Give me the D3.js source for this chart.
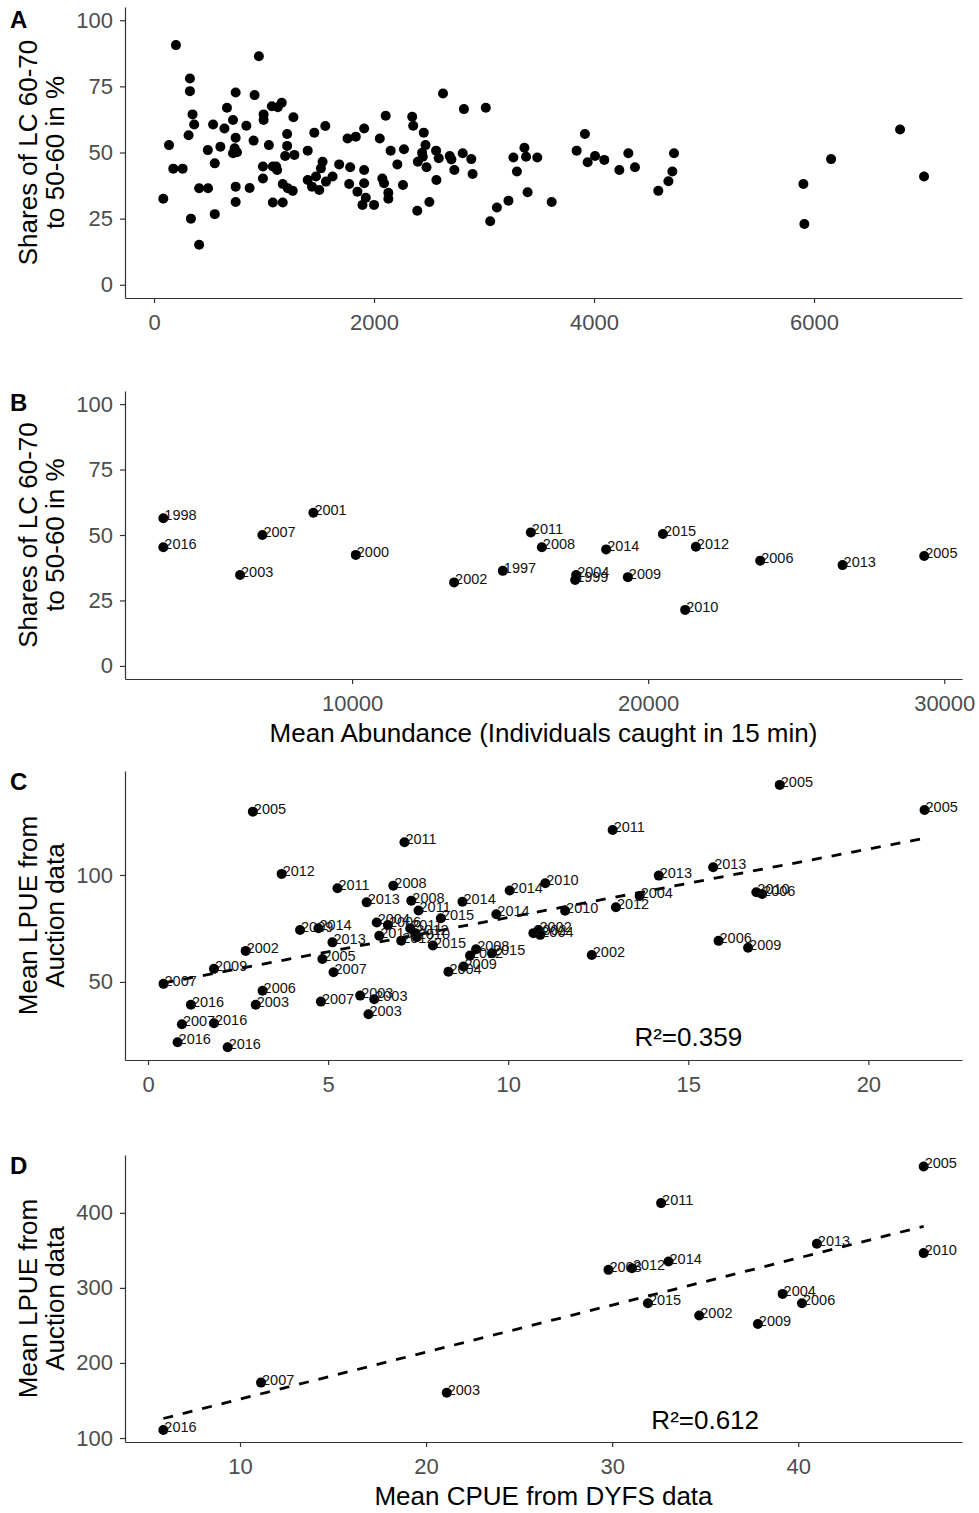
<!DOCTYPE html>
<html>
<head>
<meta charset="utf-8">
<script src="https://cdn.jsdelivr.net/npm/d3@7"></script>
<style>
  html, body { margin: 0; padding: 0; background: #fff; }
  svg { display: block; }
  text { font-family: "Liberation Sans", Arial, sans-serif; }
</style>
</head>
<body>
<svg id="fig" width="979" height="1513"></svg>
<script>
// ---- Panel A: individual hauls (abundance vs. share of LC 60-70 to 50-60) ----
const hauls = [
  [199,90.6],[953,86.4],[326,78],[326,73.2],[350,64.4],[365,60.6],[314,56.5],[136,52.8],[84,32.5],[175,43.9],
  [260,43.9],[335,25],[410,15.1],[410,36.5],[491,36.5],[489,50.9],[537,60.6],[552,45.9],[552,26.7],[603,52.2],
  [640,59.1],[663,66.9],[718,62.3],[742,72.7],[742,55.6],[733,51.6],[718,49.7],[754,50.1],[742,37.1],[742,31.3],
  [839,60.1],[869,36.6],[914,71.7],[905,54.5],[996,64.4],[996,62.3],[1044,52.8],[990,44.7],[990,40.2],[1080,44.7],
  [1110,44.7],[1119,43.4],[1080,31.1],[1170,31.1],[1071,67.5],[1125,67.1],[1161,68.8],[1210,57],[1210,52.5],[1192,48.7],
  [1267,63.3],[1276,49.1],[1170,38.1],[1216,36.5],[1261,35.5],[1397,50.7],[1397,39.6],[1457,57.5],[1557,60],[1436,37.1],
  [1472,40.9],[1517,44],[1532,46.5],[1502,35.8],[1563,39],[1623,40.9],[1683,45.5],[1759,55.3],[1834,56],[1910,59.1],
  [1783,44.4],[1774,38.1],[1849,35.2],[1910,38.4],[1910,43.4],[1925,32.9],[1895,30.2],[2000,30.2],[2052,55.3],[2106,63.9],
  [2151,50.7],[2212,45.5],[2272,51.2],[2075,40.2],[2091,38.4],[2130,34.8],[2130,32.5],[2263,37.7],[2347,63.5],[2356,60.1],
  [2393,28],[2398,46.5],[2627,72.3],[2817,66.4],[3016,66.9],[2452,57.5],[2468,52.8],[2437,49.9],[2443,48.4],[2477,44.4],
  [2564,50.7],[2588,47.8],[2567,39.6],[2688,48.7],[2703,47.4],[2730,43.4],[2806,49.7],[2884,47.5],[2896,41.9],[2503,31.3],
  [3056,24],[3117,29.2],[3222,31.8],[3267,48.1],[3367,51.8],[3382,48.4],[3484,48.1],[3299,42.8],[3396,35],[3615,31.3],
  [3842,50.7],[3917,57],[3942,46.3],[4009,48.7],[4093,47.2],[4230,43.4],[4312,49.7],[4372,44.4],[4584,35.5],[4676,39.1],
  [4712,42.8],[4727,49.7],[6782,58.7],[6155,47.5],[5903,38.1],[5912,23],[7000,40.9]
];

// ---- Panel B: yearly mean abundance vs. share ----
const yearsB     = ["1998","2016","2007","2001","2003","2000","2002","1997","2011","2008","2014","2015","2012","2006","2013","2005","2004","1999","2009","2010"];
const abundanceB = [3625,3625,6970,8693,6216,10125,13446,15091,16037,16409,18581,20497,21611,23784,26566,29324,17568,17534,19314,21250];
const sharesB    = [56.4,45.3,50,58.5,34.7,42.4,31.9,36.3,51,45.3,44.5,50.4,45.5,40.2,38.5,42,34.7,32.8,33.9,21.4];

// ---- Panel C: mean abundance vs. mean LPUE from auction data ----
const yearsC = ["2005","2012","2011","2008","2013","2011","2009","2014","2002","2009","2007","2016","2006","2003","2007","2016","2016","2016",
  "2005","2013","2007","2007","2003","2003","2003","2008","2011","2014","2014","2010","2015","2014","2010","2004","2006","2011","2012",
  "2013","2012","2010","2015","2002","2002","2004","2008","2015","2012","2009","2004","2005","2005","2011","2013","2013","2004","2012",
  "2010","2006","2006","2009","2002"];
const abundC = [2.91,3.71,5.26,6.81,6.07,7.12,4.22,4.73,2.71,1.83,0.43,1.19,3.18,2.99,0.94,1.83,0.82,2.21,
  4.84,5.12,5.15,4.80,5.89,6.28,6.12,7.31,7.51,8.73,10.04,11.03,8.13,9.67,11.58,6.35,6.66,7.28,7.42,
  6.42,7.03,7.46,7.91,10.7,10.84,10.89,9.11,9.55,8.94,8.76,8.34,17.54,21.56,12.9,14.18,15.69,13.65,12.99,
  16.89,17.05,15.84,16.66,12.32];
const lpueC = [129.6,100.5,93.8,95,87.2,115.3,74.3,75.1,64.5,56.1,49.1,39.3,45.9,39.3,30.2,30.7,21.8,19.5,
  60.7,68.5,54.5,40.8,43.6,41.9,34.9,88,83.4,87.5,92.7,96.1,79.8,81.6,83.3,77.8,76.6,75.1,72.8,
  71.6,69.3,70.9,67,72.8,74.3,72,65.3,63.4,62.3,57.2,54.8,142.1,130.4,121,99.7,103.6,90.2,84.9,
  91.9,91.1,69.2,66,62.6];
const fitC = [[0.43,49.5],[21.56,117.1]];
const r2C = "R²=0.359";

// ---- Panel D: mean CPUE (DYFS) vs. mean LPUE ----
const yearsD = ["2016","2007","2003","2005","2011","2010","2013","2008","2012","2014","2015","2002","2009","2004","2006"];
const cpueD  = [5.88,11.13,21.11,46.74,32.63,46.74,41.0,29.8,31.06,33.03,31.92,34.68,37.83,39.16,40.2];
const lpueD  = [110.7,173.8,160.4,461.8,412.9,346.3,358.7,324,326.2,335.1,279.6,263.1,252,292,279.6];
const fitD = [[5.88,126],[46.74,382]];
const r2D = "R²=0.612";

// ---- tick labels ----
const ticksShare = [0,25,50,75,100];
const ticksA = [0,2000,4000,6000];
const ticksB = [10000,20000,30000];
const ticksCx = [0,5,10,15,20];
const ticksCy = [50,100];
const ticksDx = [10,20,30,40];
const ticksDy = [100,200,300,400];

const svg = d3.select("#fig");
const L = 125, R = 962;
const axisColor = "#333333", tickText = "#4d4d4d";

function panel(opt) {
  const x = d3.scaleLinear().domain(opt.xDomain).range([L, R]);
  const y = d3.scaleLinear().domain(opt.yDomain).range([opt.bottom, opt.top]);
  const g = svg.append("g");

  const ax = g.append("g").attr("transform", `translate(0,${opt.bottom})`)
    .call(d3.axisBottom(x).tickValues(opt.xTicks).tickFormat(d3.format("d")).tickSize(5).tickSizeOuter(0).tickPadding(11));
  const ay = g.append("g").attr("transform", `translate(${L},0)`)
    .call(d3.axisLeft(y).tickValues(opt.yTicks).tickFormat(d3.format("d")).tickSize(5).tickSizeOuter(0).tickPadding(7));
  [ax, ay].forEach(a => {
    a.select(".domain").attr("stroke", axisColor).attr("stroke-width", 1.2);
    a.selectAll(".tick line").attr("stroke", axisColor).attr("stroke-width", 1.2);
    a.selectAll(".tick text").attr("fill", tickText).style("font-size", "22px")
      .style("font-family", '"Liberation Sans", Arial, sans-serif');
  });

  // y axis title (two lines)
  const cy = (opt.top + opt.bottom) / 2;
  opt.yTitle.forEach((t, i) => {
    g.append("text").attr("transform", `translate(${37 + i * 27},${cy}) rotate(-90)`)
      .attr("text-anchor", "middle").style("font-size", "26px").attr("fill", "#000").text(t);
  });
  if (opt.xTitle) {
    g.append("text").attr("x", (L + R) / 2).attr("y", opt.bottom + 63)
      .attr("text-anchor", "middle").style("font-size", "26px").attr("fill", "#000").text(opt.xTitle);
  }
  // panel letter
  g.append("text").attr("x", 10).attr("y", opt.top + opt.letterDy).style("font-size", "24px")
    .style("font-weight", "bold").attr("fill", "#000").text(opt.letter);

  // regression line
  if (opt.fit) {
    g.append("path").datum(opt.fit)
      .attr("d", d3.line().x(d => x(d[0])).y(d => y(d[1])))
      .attr("fill", "none").attr("stroke", "#000").attr("stroke-width", 2.8).attr("stroke-dasharray", "10,10");
  }

  g.append("g").selectAll("circle").data(opt.points).join("circle")
    .attr("cx", d => x(d.x)).attr("cy", d => y(d.y)).attr("r", 5).attr("fill", "#000");

  if (opt.labels) {
    g.append("g").selectAll("text").data(opt.points).join("text")
      .attr("x", d => x(d.x) + 1).attr("y", d => y(d.y) + 2)
      .style("font-size", "14.5px").attr("fill", "#111").text(d => d.label);
  }
  if (opt.r2) {
    g.append("text").attr("x", x(opt.r2.x)).attr("y", y(opt.r2.y)).attr("dy", "0.35em")
      .attr("text-anchor", "middle").style("font-size", "26px").attr("fill", "#000").text(opt.r2.text);
  }
}

const shareTitle = ["Shares of LC 60-70", "to 50-60 in %"];
const lpueTitle = ["Mean LPUE from", "Auction data"];

panel({
  letter: "A", letterDy: 21, top: 7, bottom: 298,
  xDomain: [-264, 7345], yDomain: [-5, 105], xTicks: ticksA, yTicks: ticksShare,
  yTitle: shareTitle,
  points: hauls.map(d => ({x: d[0], y: d[1]}))
});

panel({
  letter: "B", letterDy: 20, top: 391, bottom: 679,
  xDomain: [2330, 30600], yDomain: [-5, 105], xTicks: ticksB, yTicks: ticksShare,
  yTitle: shareTitle, xTitle: "Mean Abundance (Individuals caught in 15 min)",
  labels: true,
  points: yearsB.map((l, i) => ({x: abundanceB[i], y: sharesB[i], label: l}))
});

panel({
  letter: "C", letterDy: 19, top: 771, bottom: 1060,
  xDomain: [-0.64, 22.6], yDomain: [13.5, 148.6], xTicks: ticksCx, yTicks: ticksCy,
  yTitle: lpueTitle, labels: true, fit: fitC,
  r2: {x: 15, y: 24.3, text: r2C},
  points: yearsC.map((l, i) => ({x: abundC[i], y: lpueC[i], label: l}))
});

panel({
  letter: "D", letterDy: 19, top: 1155, bottom: 1442,
  xDomain: [3.82, 48.8], yDomain: [94.7, 477], xTicks: ticksDx, yTicks: ticksDy,
  yTitle: lpueTitle, xTitle: "Mean CPUE from DYFS data", labels: true, fit: fitD,
  r2: {x: 35, y: 124, text: r2D},
  points: yearsD.map((l, i) => ({x: cpueD[i], y: lpueD[i], label: l}))
});
</script>
</body>
</html>
